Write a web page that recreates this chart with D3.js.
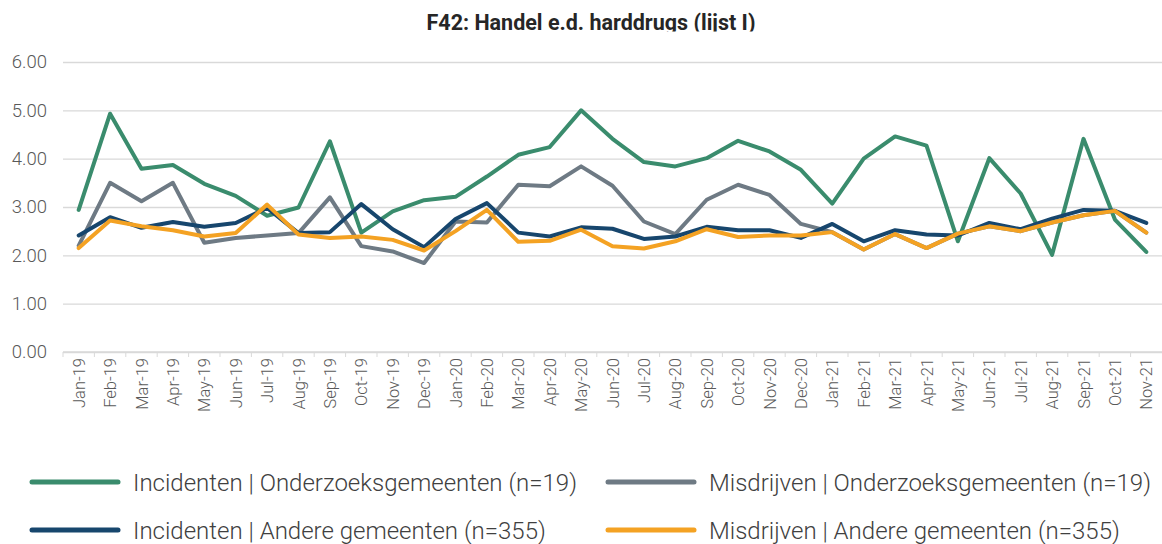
<!DOCTYPE html>
<html>
<head>
<meta charset="utf-8">
<script src="https://cdn.jsdelivr.net/npm/d3@7"></script>
<style>
  body { margin: 0; background: #fff; }
  svg { display: block; font-family: Roboto, "Open Sans", sans-serif; }
</style>
</head>
<body>
<div id="chart"></div>
<script>
// months on the category axis
const months = ["Jan-19", "Feb-19", "Mar-19", "Apr-19", "May-19", "Jun-19", "Jul-19", "Aug-19", "Sep-19", "Oct-19", "Nov-19", "Dec-19",
    "Jan-20", "Feb-20", "Mar-20", "Apr-20", "May-20", "Jun-20", "Jul-20", "Aug-20", "Sep-20", "Oct-20", "Nov-20", "Dec-20",
    "Jan-21", "Feb-21", "Mar-21", "Apr-21", "May-21", "Jun-21", "Jul-21", "Aug-21", "Sep-21", "Oct-21", "Nov-21"];

const yTicks = [0, 1, 2, 3, 4, 5, 6];

const incidentenOnderzoek = [2.94, 4.93, 3.79, 3.87, 3.48, 3.23, 2.82, 2.99, 4.36, 2.47, 2.91, 3.14,
    3.21, 3.63, 4.08, 4.24, 5.00, 4.41, 3.93, 3.84, 4.01, 4.37, 4.15, 3.77,
    3.07, 4.00, 4.46, 4.27, 2.29, 4.01, 3.28, 2.01, 4.41, 2.74, 2.07];

const misdrijvenOnderzoek = [2.20, 3.50, 3.12, 3.50, 2.26, 2.36, 2.41, 2.46, 3.20, 2.19, 2.08, 1.84,
    2.70, 2.68, 3.46, 3.43, 3.84, 3.44, 2.70, 2.44, 3.15, 3.46, 3.25, 2.65,
    2.48, 2.12, 2.44, 2.15, 2.45, 2.60, 2.50, 2.68, 2.83, 2.92, 2.47];

const incidentenAndere = [2.41, 2.79, 2.57, 2.69, 2.59, 2.67, 2.98, 2.46, 2.48, 3.06, 2.54, 2.17,
    2.75, 3.08, 2.47, 2.39, 2.58, 2.55, 2.34, 2.39, 2.59, 2.52, 2.52, 2.36,
    2.65, 2.29, 2.52, 2.43, 2.41, 2.67, 2.54, 2.76, 2.94, 2.92, 2.67];

const misdrijvenAndere = [2.15, 2.72, 2.60, 2.52, 2.39, 2.46, 3.05, 2.43, 2.36, 2.39, 2.32, 2.10,
    2.50, 2.94, 2.28, 2.30, 2.53, 2.19, 2.14, 2.29, 2.54, 2.38, 2.41, 2.41,
    2.48, 2.12, 2.44, 2.15, 2.45, 2.60, 2.50, 2.68, 2.83, 2.92, 2.47];

const seriesNames = [
    "Incidenten | Onderzoeksgemeenten (n=19)",
    "Misdrijven | Onderzoeksgemeenten (n=19)",
    "Incidenten | Andere gemeenten (n=355)",
    "Misdrijven | Andere gemeenten (n=355)"
];
const seriesColors = ["#3a8c6d", "#6e7a84", "#17466d", "#f4a223"];

const series = [incidentenOnderzoek, misdrijvenOnderzoek, incidentenAndere, misdrijvenAndere]
    .map((values, i) => ({ name: seriesNames[i], color: seriesColors[i], values: values }));

const width = 1162;
const height = 544;
const marginLeft = 63;
const marginRight = 0;
const marginTop = 62;
const plotBottom = 352;

const svg = d3.select("#chart")
    .append("svg")
    .attr("width", width)
    .attr("height", height);

// title (clipped at the bottom like the source image)
svg.append("clipPath").attr("id", "titleClip")
    .append("rect").attr("x", 0).attr("y", 0).attr("width", width).attr("height", 31.5);
svg.append("text")
    .attr("clip-path", "url(#titleClip)")
    .attr("x", 591)
    .attr("y", 29.5)
    .attr("text-anchor", "middle")
    .attr("font-size", 21.5)
    .attr("font-weight", "bold")
    .attr("fill", "#262626")
    .text("F42: Handel e.d. harddrugs (lijst I)");

const x = d3.scaleBand()
    .domain(months)
    .range([marginLeft, width - marginRight])
    .padding(0);

const y = d3.scaleLinear()
    .domain([0, 6])
    .range([plotBottom, marginTop]);

// gridlines + y labels
const yAxis = svg.append("g")
    .attr("transform", `translate(${marginLeft},0)`)
    .call(d3.axisLeft(y).tickValues(yTicks).tickSize(-(width - marginLeft - marginRight)).tickFormat(d3.format(".2f")).tickPadding(16));
yAxis.select(".domain").remove();
yAxis.selectAll(".tick line").attr("stroke", "#d9d9d9").attr("stroke-width", 1.3);
yAxis.selectAll(".tick text")
    .attr("fill", "#595959")
    .attr("font-size", 18.5)
    .attr("font-weight", 300)
    .attr("font-family", "Roboto, sans-serif");

// x axis: ticks sit on the category boundaries
const xAxis = svg.append("g")
    .attr("transform", `translate(0,${plotBottom})`);
xAxis.append("line")
    .attr("x1", marginLeft).attr("x2", width - marginRight)
    .attr("stroke", "#d9d9d9").attr("stroke-width", 1.3);
xAxis.selectAll("line.tk")
    .data(months)
    .join("line")
    .attr("class", "tk")
    .attr("x1", d => x(d)).attr("x2", d => x(d))
    .attr("y1", 0).attr("y2", 5)
    .attr("stroke", "#d9d9d9");
xAxis.selectAll("text")
    .data(months)
    .join("text")
    .attr("transform", d => `translate(${x(d) + x.bandwidth() / 2 + 6},6) rotate(-90)`)
    .attr("text-anchor", "end")
    .attr("font-size", 16.5)
    .attr("font-weight", 300)
    .attr("fill", "#595959")
    .text(d => d);

// lines
const line = d3.line()
    .x((d, i) => x(months[i]) + x.bandwidth() / 2)
    .y(d => y(d));

svg.append("g")
    .selectAll("path")
    .data(series)
    .join("path")
    .attr("fill", "none")
    .attr("stroke", d => d.color)
    .attr("stroke-width", 4)
    .attr("stroke-linejoin", "round")
    .attr("stroke-linecap", "round")
    .attr("d", d => line(d.values));

// legend
const legendPos = [[32, 482], [608, 482], [32, 530], [608, 530]];
const legend = svg.append("g")
    .selectAll("g")
    .data(series)
    .join("g")
    .attr("transform", (d, i) => `translate(${legendPos[i][0]},${legendPos[i][1]})`);
legend.append("line")
    .attr("x1", 0).attr("x2", 86)
    .attr("stroke", d => d.color)
    .attr("stroke-width", 5)
    .attr("stroke-linecap", "round");
legend.append("text")
    .attr("x", 101)
    .attr("y", 8.5)
    .attr("font-size", 24)
    .attr("font-weight", 300)
    .attr("fill", "#404040")
    .text(d => d.name);
</script>
</body>
</html>
